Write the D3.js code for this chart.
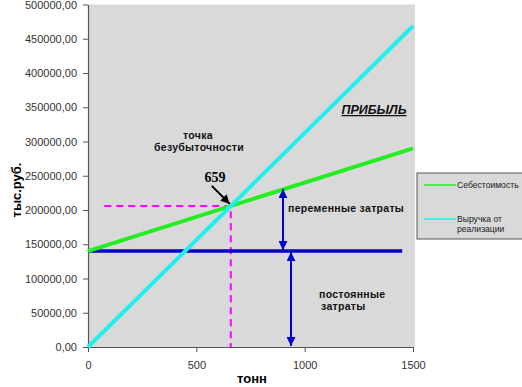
<!DOCTYPE html>
<html>
<head>
<meta charset="utf-8">
<script src="https://cdn.jsdelivr.net/npm/d3@7"></script>
<style>
body { margin: 0; background: #fff; }
svg { font-family: "Liberation Sans", Arial, sans-serif; }
</style>
</head>
<body>
<svg></svg>
<script>
// data
const tons = [0, 1500];
const cost = [140000, 290000];      // Себестоимость
const revenue = [0, 468600];        // Выручка от реализации
const fixedTons = [0, 1450];
const fixedCost = [140000, 140000]; // постоянные затраты
const breakEven = { t: 659, v: 206000 };
const dashStart = 75;
const varArrow = { t: 900, top: 232000, bottom: 140000 };
const fixArrow = { t: 937, top: 140000, bottom: 0 };
const xTicks = [0, 500, 1000, 1500];
const yTicks = [0, 50000, 100000, 150000, 200000, 250000, 300000, 350000, 400000, 450000, 500000];

const W = 522, H = 387;
const mLeft = 88, mRight = 413, mTop = 4.5, mBottom = 347;

const svg = d3.select('svg')
              .attr('width', W)
              .attr('height', H);

const x = d3.scaleLinear().domain([0, 1500]).range([mLeft, mRight]);
const y = d3.scaleLinear().domain([0, 500000]).range([mBottom, mTop]);

// plot background
svg.append('rect')
   .attr('x', mLeft + 1).attr('y', mTop)
   .attr('width', mRight - mLeft + 1).attr('height', mBottom - mTop)
   .attr('fill', '#d9d9d9');

// axes
const fmt = d => d3.format('.2f')(d).replace('.', ',');
const yAxis = svg.append('g')
   .attr('transform', `translate(${mLeft},0)`)
   .call(d3.axisLeft(y).tickValues(yTicks).tickFormat(fmt).tickSize(5).tickPadding(6).tickSizeOuter(0));
const xAxis = svg.append('g')
   .attr('transform', `translate(0,${mBottom})`)
   .call(d3.axisBottom(x).tickValues(xTicks).tickFormat(d3.format('d')).tickSize(5).tickPadding(9).tickSizeOuter(0));
[yAxis, xAxis].forEach(a => {
  a.select('.domain').attr('stroke', '#555').attr('stroke-width', 1.2);
  a.selectAll('.tick line').attr('stroke', '#555');
  a.selectAll('text').attr('fill', '#333').style('font-size', '11px');
});

// arrow markers
const defs = svg.append('defs');
function marker(id, color, w, h) {
  defs.append('marker')
      .attr('id', id)
      .attr('viewBox', '0 0 10 10')
      .attr('refX', 10).attr('refY', 5)
      .attr('markerWidth', w).attr('markerHeight', h)
      .attr('markerUnits', 'userSpaceOnUse')
      .attr('orient', 'auto-start-reverse')
      .append('path')
      .attr('d', 'M0,0 L10,5 L0,10 Z')
      .attr('fill', color);
}
marker('blueArrow', '#0000cc', 9, 9);
marker('blackArrow', '#000', 9, 9);

const line = d3.line().x(d => x(d[0])).y(d => y(d[1]));

// magenta dashed guides
svg.append('path')
   .datum([[dashStart, breakEven.v], [breakEven.t, breakEven.v], [breakEven.t, 0]])
   .attr('d', line)
   .attr('fill', 'none')
   .attr('stroke', '#ff00ff')
   .attr('stroke-width', 2)
   .attr('stroke-dasharray', '7,5');

// fixed cost line
svg.append('path')
   .datum(d3.zip(fixedTons, fixedCost))
   .attr('d', line)
   .attr('stroke', '#0000cc')
   .attr('stroke-width', 3.5);

// cost line
svg.append('path')
   .datum(d3.zip(tons, cost))
   .attr('d', line)
   .attr('stroke', '#22ee22')
   .attr('stroke-width', 4);

// revenue line
svg.append('path')
   .datum(d3.zip(tons, revenue))
   .attr('d', line)
   .attr('stroke', '#22eeee')
   .attr('stroke-width', 4);

// double-headed arrows
[varArrow, fixArrow].forEach(a => {
  svg.append('line')
     .attr('x1', x(a.t)).attr('x2', x(a.t))
     .attr('y1', y(a.top) + 1).attr('y2', y(a.bottom) - 1)
     .attr('stroke', '#0000cc')
     .attr('stroke-width', 2)
     .attr('marker-start', 'url(#blueArrow)')
     .attr('marker-end', 'url(#blueArrow)');
});

// break-even pointer
svg.append('line')
   .attr('x1', x(breakEven.t) - 19).attr('y1', y(breakEven.v) - 20)
   .attr('x2', x(breakEven.t) - 1).attr('y2', y(breakEven.v) - 2)
   .attr('stroke', '#000')
   .attr('stroke-width', 2)
   .attr('marker-end', 'url(#blackArrow)');

// annotations
svg.append('text')
   .attr('x', 215).attr('y', 182)
   .attr('text-anchor', 'middle')
   .style('font-family', '"Liberation Serif", "Times New Roman", serif')
   .style('font-weight', 'bold').style('font-size', '14px')
   .text(breakEven.t);

const small = (tx, ty, s, anchor) => svg.append('text')
   .attr('x', tx).attr('y', ty)
   .attr('text-anchor', anchor || 'start')
   .style('font-size', '10.5px').style('font-weight', 'bold')
   .attr('fill', '#111')
   .style('letter-spacing', '0.3px')
   .text(s);

small(198, 139, 'точка', 'middle');
small(199, 151, 'безубыточности', 'middle');
small(288, 212, 'переменные затраты');
small(319, 298, 'постоянные');
small(321, 310, 'затраты');

svg.append('text')
   .attr('x', 374).attr('y', 114)
   .attr('text-anchor', 'middle')
   .style('font-size', '12.5px').style('font-weight', 'bold').style('font-style', 'italic')
   .style('text-decoration', 'underline')
   .attr('fill', '#111')
   .text('ПРИБЫЛЬ');

// axis titles
svg.append('text')
   .attr('transform', 'translate(21,190) rotate(-90)')
   .attr('text-anchor', 'middle')
   .style('font-size', '13px').style('font-weight', 'bold')
   .text('тыс.руб.');
svg.append('text')
   .attr('x', 252).attr('y', 383)
   .attr('text-anchor', 'middle')
   .style('font-size', '13px').style('font-weight', 'bold')
   .text('тонн');

// legend
const legend = svg.append('g');
legend.append('rect')
   .attr('x', 417).attr('y', 173)
   .attr('width', 110).attr('height', 66)
   .attr('fill', '#d9d9d9')
   .attr('stroke', '#555');
const items = [
  { name: ['Себестоимость'], color: '#22ee22', yy: 185 },
  { name: ['Выручка от', 'реализации'], color: '#22eeee', yy: 219 }
];
items.forEach(it => {
  legend.append('line')
     .attr('x1', 424).attr('x2', 456)
     .attr('y1', it.yy).attr('y2', it.yy)
     .attr('stroke', it.color).attr('stroke-width', 1.5);
  it.name.forEach((s, i) => legend.append('text')
     .attr('x', 457).attr('y', it.yy + 3 + i * 10)
     .style('font-size', '8.6px')
     .attr('fill', '#222')
     .text(s));
});
</script>
</body>
</html>
